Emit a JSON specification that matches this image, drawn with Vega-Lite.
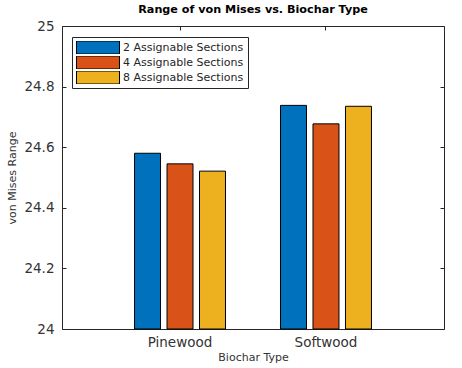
{
  "$schema": "https://vega.github.io/schema/vega-lite/v6.json",
  "width": 382,
  "height": 303,
  "autosize": {"type": "none"},
  "padding": {"left": 62, "top": 26, "right": 18, "bottom": 39},
  "background": "white",
  "title": {"text": "Range of von Mises vs. Biochar Type", "font": "DejaVu Sans", "fontSize": 11.2, "fontWeight": "bold", "color": "#000000", "offset": 4, "anchor": "middle"},
  "config": {
    "view": {"stroke": "#262626", "strokeWidth": 1},
    "axis": {"labelFont": "DejaVu Sans", "titleFont": "DejaVu Sans", "labelColor": "#333333", "titleColor": "#333333", "grid": false, "domain": false, "tickColor": "#262626", "tickSize": -4, "titleFontWeight": "normal"}
  },
  "data": {"values": [
    {"type": "Pinewood", "sections": "2 Assignable Sections", "value": 24.580},
    {"type": "Pinewood", "sections": "4 Assignable Sections", "value": 24.545},
    {"type": "Pinewood", "sections": "8 Assignable Sections", "value": 24.521},
    {"type": "Softwood", "sections": "2 Assignable Sections", "value": 24.738},
    {"type": "Softwood", "sections": "4 Assignable Sections", "value": 24.677},
    {"type": "Softwood", "sections": "8 Assignable Sections", "value": 24.735}
  ]},
  "layer": [
    {
      "mark": {"type": "bar", "stroke": "#000000", "strokeWidth": 1, "opacity": 1},
      "encoding": {
        "x": {"field": "type", "type": "nominal", "sort": ["Pinewood", "Softwood"],
          "scale": {"paddingInner": 0.377, "paddingOuter": 0.497},
          "axis": {"title": "Biochar Type", "labelAngle": 0, "labelFontSize": 13.5, "labelPadding": 10, "titleFontSize": 11, "titlePadding": 3, "orient": "bottom"}},
        "xOffset": {"field": "sections", "type": "nominal", "scale": {"paddingInner": 0.2, "paddingOuter": 0}},
        "y": {"field": "value", "type": "quantitative",
          "scale": {"domain": [24, 25], "nice": false, "zero": false},
          "axis": {"title": "von Mises Range", "values": [24, 24.2, 24.4, 24.6, 24.8, 25], "format": "~g", "labelFontSize": 13.5, "labelPadding": 12, "titleFontSize": 11, "titlePadding": 6, "orient": "left"}},
        "y2": {"datum": 24},
        "color": {"field": "sections", "type": "nominal",
          "scale": {"domain": ["2 Assignable Sections", "4 Assignable Sections", "8 Assignable Sections"], "range": ["#0072BD", "#D95319", "#EDB120"]},
          "legend": {"title": null, "orient": "none", "legendX": 10, "legendY": 11, "direction": "vertical",
            "strokeColor": "#262626", "fillColor": "#ffffff", "padding": 4,
            "symbolType": "M-1,-0.302H1V0.302H-1Z", "symbolSize": 1849, "clipHeight": 13,
            "symbolStrokeColor": "#000000", "symbolStrokeWidth": 1, "symbolOpacity": 1,
            "labelFont": "DejaVu Sans", "labelFontSize": 11, "labelColor": "#262626", "labelOffset": 3, "rowPadding": 2}}
      }
    },
    {
      "mark": {"type": "bar", "opacity": 0},
      "encoding": {
        "x": {"field": "type", "type": "nominal", "sort": ["Pinewood", "Softwood"],
          "axis": {"title": null, "labels": false, "orient": "top"}},
        "y": {"field": "value", "type": "quantitative",
          "axis": {"title": null, "labels": false, "values": [24, 24.2, 24.4, 24.6, 24.8, 25], "orient": "right"}},
        "y2": {"datum": 24}
      }
    }
  ],
  "resolve": {"axis": {"x": "independent", "y": "independent"}}
}
